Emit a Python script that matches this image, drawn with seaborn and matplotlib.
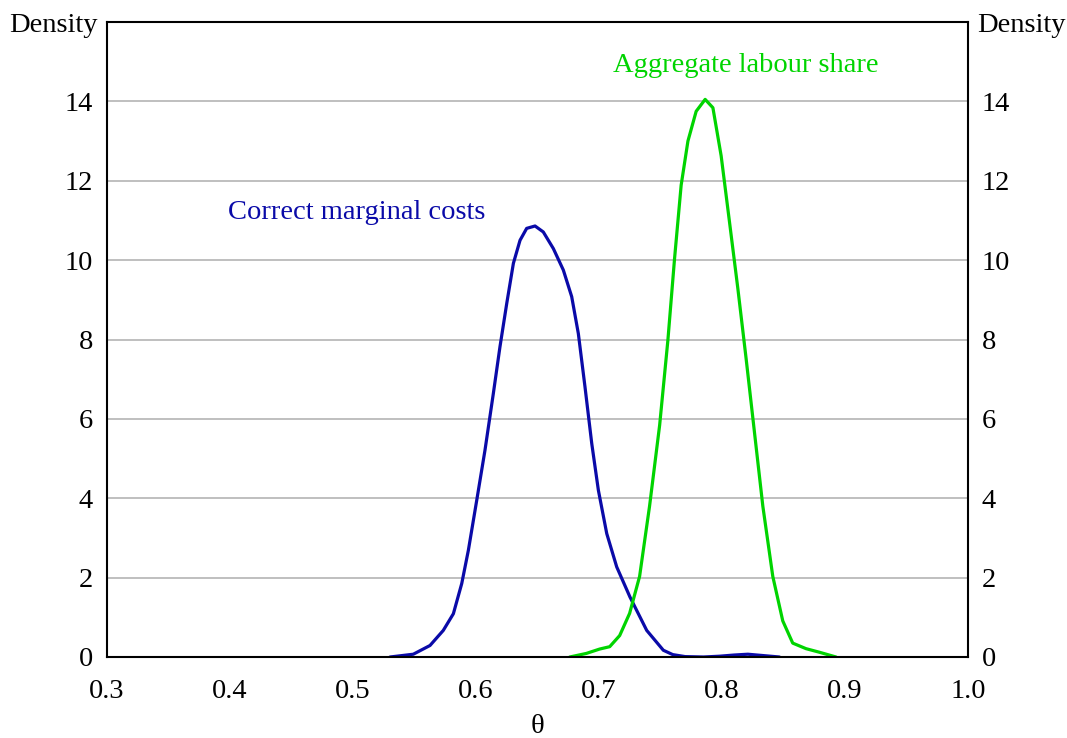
import numpy as np
import matplotlib
matplotlib.use('Agg')
import matplotlib.pyplot as plt
import seaborn as sns
import pandas as pd

# density curves (theta, density)
mc_theta = [0.5301, 0.5490, 0.5626, 0.5734, 0.5816, 0.5884, 0.5938, 0.6006, 0.6073, 0.6141,
            0.6195, 0.6250, 0.6304, 0.6358, 0.6412, 0.6480, 0.6547, 0.6629, 0.6710, 0.6778,
            0.6832, 0.6886, 0.6941, 0.6995, 0.7063, 0.7144, 0.7252, 0.7388, 0.7523, 0.7600,
            0.7700, 0.7850, 0.7980, 0.8100, 0.8210, 0.8320, 0.8467]
mc_dens = [0.00, 0.07, 0.29, 0.67, 1.09, 1.85, 2.69, 3.95, 5.21, 6.64,
           7.82, 8.91, 9.92, 10.50, 10.80, 10.86, 10.71, 10.29, 9.75, 9.08,
           8.15, 6.81, 5.38, 4.20, 3.11, 2.27, 1.51, 0.67, 0.17, 0.06,
           0.01, 0.00, 0.02, 0.05, 0.07, 0.04, 0.00]

ls_theta = [0.6762, 0.6897, 0.7005, 0.7087, 0.7168, 0.7249, 0.7330, 0.7411, 0.7493, 0.7560,
            0.7614, 0.7668, 0.7723, 0.7790, 0.7863, 0.7926, 0.7993, 0.8061, 0.8129, 0.8196,
            0.8264, 0.8332, 0.8413, 0.8494, 0.8575, 0.8683, 0.8792, 0.8927]
ls_dens = [0.00, 0.09, 0.20, 0.26, 0.54, 1.10, 2.03, 3.80, 5.84, 7.98,
           10.03, 11.89, 13.00, 13.75, 14.05, 13.84, 12.63, 10.96, 9.28, 7.52,
           5.66, 3.80, 2.03, 0.91, 0.35, 0.21, 0.12, 0.00]

x_ticks = [0.3, 0.4, 0.5, 0.6, 0.7, 0.8, 0.9, 1.0]
y_ticks = [0, 2, 4, 6, 8, 10, 12, 14]

mc = pd.DataFrame({'theta': mc_theta, 'density': mc_dens})
ls = pd.DataFrame({'theta': ls_theta, 'density': ls_dens})

sns.set_style('white')
plt.rcParams['font.family'] = ['Liberation Serif', 'DejaVu Serif']
plt.rcParams['font.size'] = 20.5
plt.rcParams['text.color'] = 'black'
plt.rcParams['xtick.color'] = 'black'
plt.rcParams['ytick.color'] = 'black'
plt.rcParams['axes.labelcolor'] = 'black'

blue = '#0a0aa8'
green = '#00d400'

fig = plt.figure(figsize=(10.67, 7.38), dpi=100)
ax = fig.add_axes([107/1067, 1 - 657/738, (968 - 107)/1067, (657 - 22)/738])

ax.set_xlim(0.3, 1.0)
ax.set_ylim(0, 16)
ax.set_yticks(y_ticks)
ax.set_xticks(x_ticks)
ax.set_xticklabels([f'{t:.1f}' for t in x_ticks])
ax.yaxis.grid(True, color='#b4b4b4', linewidth=1.2)
ax.set_axisbelow(True)

sns.lineplot(data=mc, x='theta', y='density', color=blue, linewidth=2.3, ax=ax)
sns.lineplot(data=ls, x='theta', y='density', color=green, linewidth=2.3, ax=ax)

ax.set_xlabel('θ', labelpad=7)
ax.set_ylabel('')
ax.tick_params(axis='x', direction='in', length=8, width=1.3, pad=16, colors='black')
ax.tick_params(axis='y', length=0, pad=10, colors='black')
for s in ax.spines.values():
    s.set_color('black')
    s.set_linewidth(1.5)

ax2 = ax.twinx()
ax2.set_ylim(0, 16)
ax2.set_yticks(y_ticks)
ax2.tick_params(axis='y', length=0, pad=10, colors='black')
for s in ax2.spines.values():
    s.set_visible(False)

ax.text(-0.011, 0.994, 'Density', ha='right', va='center', transform=ax.transAxes)
ax.text(1.011, 0.994, 'Density', ha='left', va='center', transform=ax.transAxes)

ax.text(0.503, 11.2, 'Correct marginal costs', color=blue, ha='center', va='center')
ax.text(0.819, 14.9, 'Aggregate labour share', color=green, ha='center', va='center')

fig.savefig('out.png', dpi=100)
